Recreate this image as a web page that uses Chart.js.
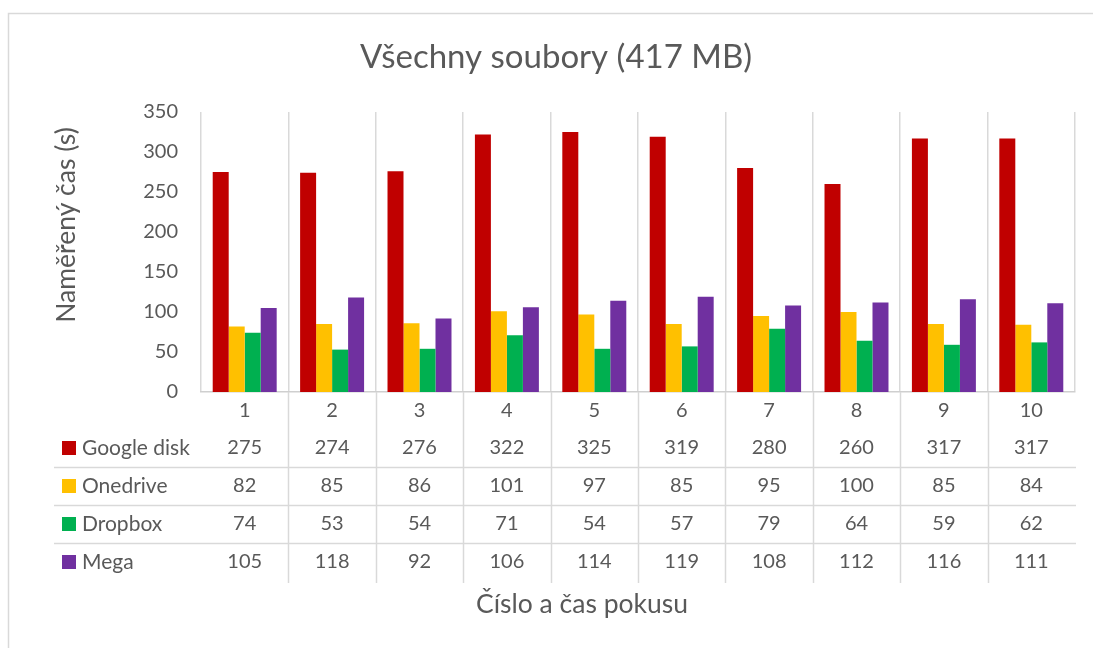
<!DOCTYPE html>
<html>
<head>
<meta charset="utf-8">
<script src="https://cdn.jsdelivr.net/npm/chart.js@4.4.1/dist/chart.umd.min.js"></script>
<style>
  html, body { margin: 0; padding: 0; background: #ffffff; }
  #wrap { position: relative; width: 1093px; height: 648px; }
</style>
</head>
<body>
<div id="wrap"><canvas id="c" width="1093" height="648"></canvas></div>
<script>
const categories = ['1', '2', '3', '4', '5', '6', '7', '8', '9', '10'];
const seriesNames = ['Google disk', 'Onedrive', 'Dropbox', 'Mega'];
const googleDisk = [275, 274, 276, 322, 325, 319, 280, 260, 317, 317];
const onedrive = [82, 85, 86, 101, 97, 85, 95, 100, 85, 84];
const dropbox = [74, 53, 54, 71, 54, 57, 79, 64, 59, 62];
const mega = [105, 118, 92, 106, 114, 119, 108, 112, 116, 111];
const seriesColors = ['#C00000', '#FFC000', '#00B050', '#7030A0'];
const yTicks = [0, 50, 100, 150, 200, 250, 300, 350];
const chartTitle = 'Všechny soubory (417 MB)';
const yTitle = 'Naměřený čas (s)';
const xTitle = 'Číslo a čas pokusu';

const TEXT = '#595959';
const LINE = '#d9d9d9';
const FONT = 'Lato';

const allSeries = [googleDisk, onedrive, dropbox, mega];

const tablePlugin = {
  id: 'dataTable',
  afterDraw(chart) {
    const ctx = chart.ctx;
    const xs = chart.scales.x;
    const top = xs.top;
    const n = categories.length;
    const step = (xs.right - xs.left) / n;
    ctx.save();
    // outer border
    ctx.strokeStyle = LINE;
    ctx.lineWidth = 1.5;
    ctx.strokeRect(8.5, 13.5, 1200, 800);
    // table vertical lines
    for (let i = 1; i < n; i++) {
      const x = Math.round(xs.left + step * i) + 0.5;
      ctx.beginPath();
      ctx.moveTo(x, top);
      ctx.lineTo(x, top + 191);
      ctx.stroke();
    }
    // horizontal lines
    const hl = [75, 113, 151];
    hl.forEach(dy => {
      const y = top + dy + 0.5;
      ctx.beginPath();
      ctx.moveTo(54, y);
      ctx.lineTo(xs.right + 1, y);
      ctx.stroke();
    });
    // rows
    const rowY = [56, 94, 132, 170];
    ctx.textBaseline = 'middle';
    seriesNames.forEach((name, r) => {
      const y = top + rowY[r];
      ctx.fillStyle = seriesColors[r];
      ctx.fillRect(62, Math.round(y - 7), 14, 14);
      ctx.fillStyle = TEXT;
      ctx.textAlign = 'left';
      ctx.font = '21px ' + FONT;
      ctx.fillText(name, 82, y);
      ctx.font = '20px ' + FONT;
      ctx.textAlign = 'center';
      allSeries[r].forEach((v, i) => {
        ctx.fillText(String(v), xs.getPixelForTick(i), y);
      });
    });
    // axis titles
    ctx.font = '26.5px ' + FONT;
    ctx.fillStyle = TEXT;
    ctx.textAlign = 'center';
    ctx.textBaseline = 'middle';
    ctx.fillText(xTitle, 582, 604);
    ctx.save();
    ctx.translate(66, 225);
    ctx.rotate(-Math.PI / 2);
    ctx.fillText(yTitle, 0, 0);
    ctx.restore();
    ctx.restore();
  }
};

new Chart(document.getElementById('c'), {
  type: 'bar',
  data: {
    labels: categories,
    datasets: seriesNames.map((name, i) => ({
      label: name,
      data: allSeries[i],
      backgroundColor: seriesColors[i],
      borderWidth: 0,
      categoryPercentage: 0.732,
      barPercentage: 1.0
    }))
  },
  options: {
    responsive: false,
    animation: false,
    layout: { padding: { left: 37, right: 18, top: 13, bottom: 0 } },
    plugins: {
      legend: { display: false },
      tooltip: { enabled: false },
      title: {
        display: true,
        text: chartTitle,
        color: TEXT,
        font: { family: FONT, size: 33, weight: 'normal', lineHeight: 1.2 },
        padding: { top: 24.7, bottom: 34.7 }
      }
    },
    scales: {
      x: {
        offset: true,
        grid: {
          display: true,
          offset: true,
          drawTicks: false,
          lineWidth: 1.5,
          color: (c) => (c.index === categories.length ? 'rgba(0,0,0,0)' : LINE)
        },
        border: { display: true, color: '#cfcfcf', width: 1.5 },
        ticks: {
          color: TEXT,
          font: { family: FONT, size: 20 },
          padding: 7,
          maxRotation: 0
        },
        afterFit: (s) => { s.height = 256; }
      },
      y: {
        min: 0,
        max: 350,
        afterBuildTicks: (s) => { s.ticks = yTicks.map(v => ({ value: v })); },
        grid: { display: false, drawTicks: false },
        border: { display: false },
        ticks: {
          color: TEXT,
          font: { family: FONT, size: 20 },
          padding: 23
        },
        afterFit: (s) => { s.width = 164; }
      }
    }
  },
  plugins: [tablePlugin]
});
</script>
</body>
</html>
